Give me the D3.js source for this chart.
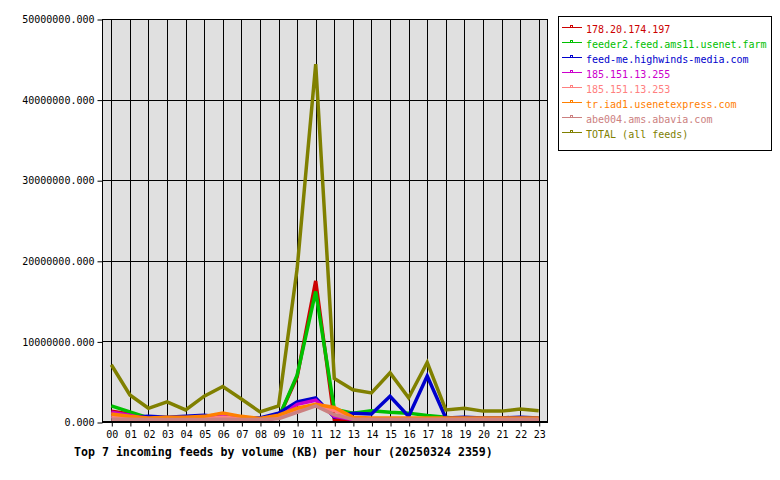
<!DOCTYPE html>
<html>
<head>
<meta charset="utf-8">
<script src="https://cdn.jsdelivr.net/npm/d3@7"></script>
<style>
  body { margin: 0; background: #fff; }
  text { font-family: "DejaVu Sans Mono", monospace; }
</style>
</head>
<body>
<div id="chart"></div>
<script>
// chart data, values in KB per hour
var hours = ["00","01","02","03","04","05","06","07","08","09","10","11","12","13","14","15","16","17","18","19","20","21","22","23"]
var feedNames = ["178.20.174.197", "feeder2.feed.ams11.usenet.farm", "feed-me.highwinds-media.com", "185.151.13.255", "185.151.13.253", "tr.iad1.usenetexpress.com", "abe004.ams.abavia.com", "TOTAL (all feeds)"]
var feedColors = ["#cc0000", "#00c000", "#0000cc", "#cc00cc", "#ff8080", "#ff8000", "#cc8080", "#808000"]

var feed178 =    [1350000,1000000,400000,300000,300000,300000,400000,300000,250000,500000,5600000,17500000,300000,300000,300000,300000,300000,300000,300000,300000,300000,300000,300000,300000]
var feedFeeder2 = [2000000,1250000,500000,400000,350000,400000,500000,400000,300000,500000,5800000,16200000,1600000,1100000,1400000,1200000,1100000,800000,600000,300000,300000,300000,300000,300000]
var feedHighwinds = [600000,600000,700000,600000,700000,850000,600000,500000,500000,1100000,2500000,3000000,600000,1100000,1000000,3200000,700000,5700000,500000,600000,500000,500000,600000,500000]
var feed255 =    [1200000,850000,300000,300000,300000,400000,700000,400000,300000,500000,2200000,2700000,700000,300000,250000,250000,250000,250000,250000,250000,250000,250000,250000,250000]
var feed253 =    [700000,500000,400000,400000,400000,400000,600000,400000,300000,600000,1500000,2100000,1400000,500000,300000,300000,300000,300000,300000,300000,300000,300000,300000,300000]
var feedUsenetExpress = [1000000,700000,500000,600000,600000,700000,1100000,700000,450000,850000,1700000,2200000,1800000,600000,500000,500000,500000,500000,500000,500000,500000,500000,500000,500000]
var feedAbavia = [350000,350000,300000,300000,300000,300000,350000,300000,300000,400000,1200000,2000000,900000,350000,350000,350000,350000,350000,350000,350000,350000,350000,350000,350000]
var feedTotal =  [7100000,3350000,1700000,2500000,1500000,3200000,4400000,2850000,1250000,2000000,19000000,44400000,5400000,4000000,3600000,6100000,3000000,7400000,1500000,1700000,1350000,1350000,1600000,1400000]
var yTicks = [0,10000000,20000000,30000000,40000000,50000000]
var chartTitle = "Top 7 incoming feeds by volume (KB) per hour (20250324 2359)"

var series = [feed178, feedFeeder2, feedHighwinds, feed255, feed253, feedUsenetExpress, feedAbavia, feedTotal]

var width = 780
var height = 480
var plot = {left: 102, right: 548, top: 19, bottom: 422}

window.onload = function () {
  var svg = d3.select("#chart")
    .append("svg")
      .attr("width", width)
      .attr("height", height)

  var x = d3.scalePoint()
    .domain(hours)
    .range([plot.left, plot.right])
    .padding(0.5)

  var y = d3.scaleLinear()
    .domain([0, 50000000])
    .range([plot.bottom, plot.top])

  // background of plot area
  svg.append("rect")
    .attr("x", plot.left)
    .attr("y", plot.top)
    .attr("width", plot.right - plot.left)
    .attr("height", plot.bottom - plot.top)
    .style("fill", "#e0e0e0")

  // grid lines
  svg.append("g").selectAll("line")
    .data(hours)
    .enter().append("line")
      .attr("x1", function(d){ return Math.round(x(d)) + 0.5 })
      .attr("x2", function(d){ return Math.round(x(d)) + 0.5 })
      .attr("y1", plot.top)
      .attr("y2", plot.bottom)
      .attr("stroke", "#000")
  svg.append("g").selectAll("line")
    .data(yTicks)
    .enter().append("line")
      .attr("x1", plot.left)
      .attr("x2", plot.right)
      .attr("y1", function(d){ return Math.round(y(d)) + 0.5 })
      .attr("y2", function(d){ return Math.round(y(d)) + 0.5 })
      .attr("stroke", "#000")

  // series lines
  var line = d3.line()
    .x(function(d, i){ return x(hours[i]) })
    .y(function(d){ return y(d) })

  svg.append("g").selectAll("path")
    .data(series)
    .enter().append("path")
      .attr("d", line)
      .attr("fill", "none")
      .attr("stroke", function(d, i){ return feedColors[i] })
      .attr("stroke-width", 3.5)
      .attr("stroke-linejoin", "miter")

  // frame
  svg.append("rect")
    .attr("x", plot.left + 0.5)
    .attr("y", plot.top + 0.5)
    .attr("width", plot.right - plot.left - 1)
    .attr("height", plot.bottom - plot.top - 1)
    .attr("fill", "none")
    .attr("stroke", "#000")

  // axes
  var yAxis = d3.axisLeft(y)
    .tickValues(yTicks)
    .tickFormat(d3.format(".3f"))
    .tickSize(5)
    .tickPadding(3)
  svg.append("g")
    .attr("transform", "translate(" + (plot.left + 0.5) + ",0.5)")
    .call(yAxis)
    .call(function(g){ g.select(".domain").remove() })
    .selectAll("text")
      .style("font-family", "DejaVu Sans Mono")
      .style("font-size", "10px")
      .attr("fill", "#000")

  var xAxis = d3.axisBottom(x)
    .tickSize(5)
    .tickPadding(4)
  svg.append("g")
    .attr("transform", "translate(0.5," + (plot.bottom - 0.5) + ")")
    .call(xAxis)
    .call(function(g){ g.select(".domain").remove() })
    .selectAll("text")
      .style("font-family", "DejaVu Sans Mono")
      .style("font-size", "10px")
      .attr("fill", "#000")

  // title
  svg.append("text")
    .attr("x", 74)
    .attr("y", 456)
    .style("font-family", "DejaVu Sans Mono")
    .style("font-weight", "bold")
    .style("font-size", "11.6px")
    .text(chartTitle)

  // legend
  var legend = svg.append("g")
  legend.append("rect")
    .attr("x", 558.5)
    .attr("y", 16.5)
    .attr("width", 213)
    .attr("height", 134)
    .attr("fill", "#fff")
    .attr("stroke", "#000")

  var item = legend.selectAll("g.item")
    .data(feedNames)
    .enter().append("g")
      .attr("class", "item")
      .attr("transform", function(d, i){ return "translate(0," + (33 + i * 15) + ")" })

  item.append("line")
    .attr("x1", 562)
    .attr("x2", 582)
    .attr("y1", -5.5)
    .attr("y2", -5.5)
    .attr("stroke", function(d, i){ return feedColors[i] })
  item.append("rect")
    .attr("x", 570.5)
    .attr("y", -7.5)
    .attr("width", 2)
    .attr("height", 2)
    .attr("fill", "none")
    .attr("stroke", function(d, i){ return feedColors[i] })
  item.append("text")
    .attr("x", 586)
    .attr("y", 0)
    .style("font-size", "10px")
    .attr("fill", function(d, i){ return feedColors[i] })
    .text(function(d){ return d })
}
</script>
</body>
</html>
